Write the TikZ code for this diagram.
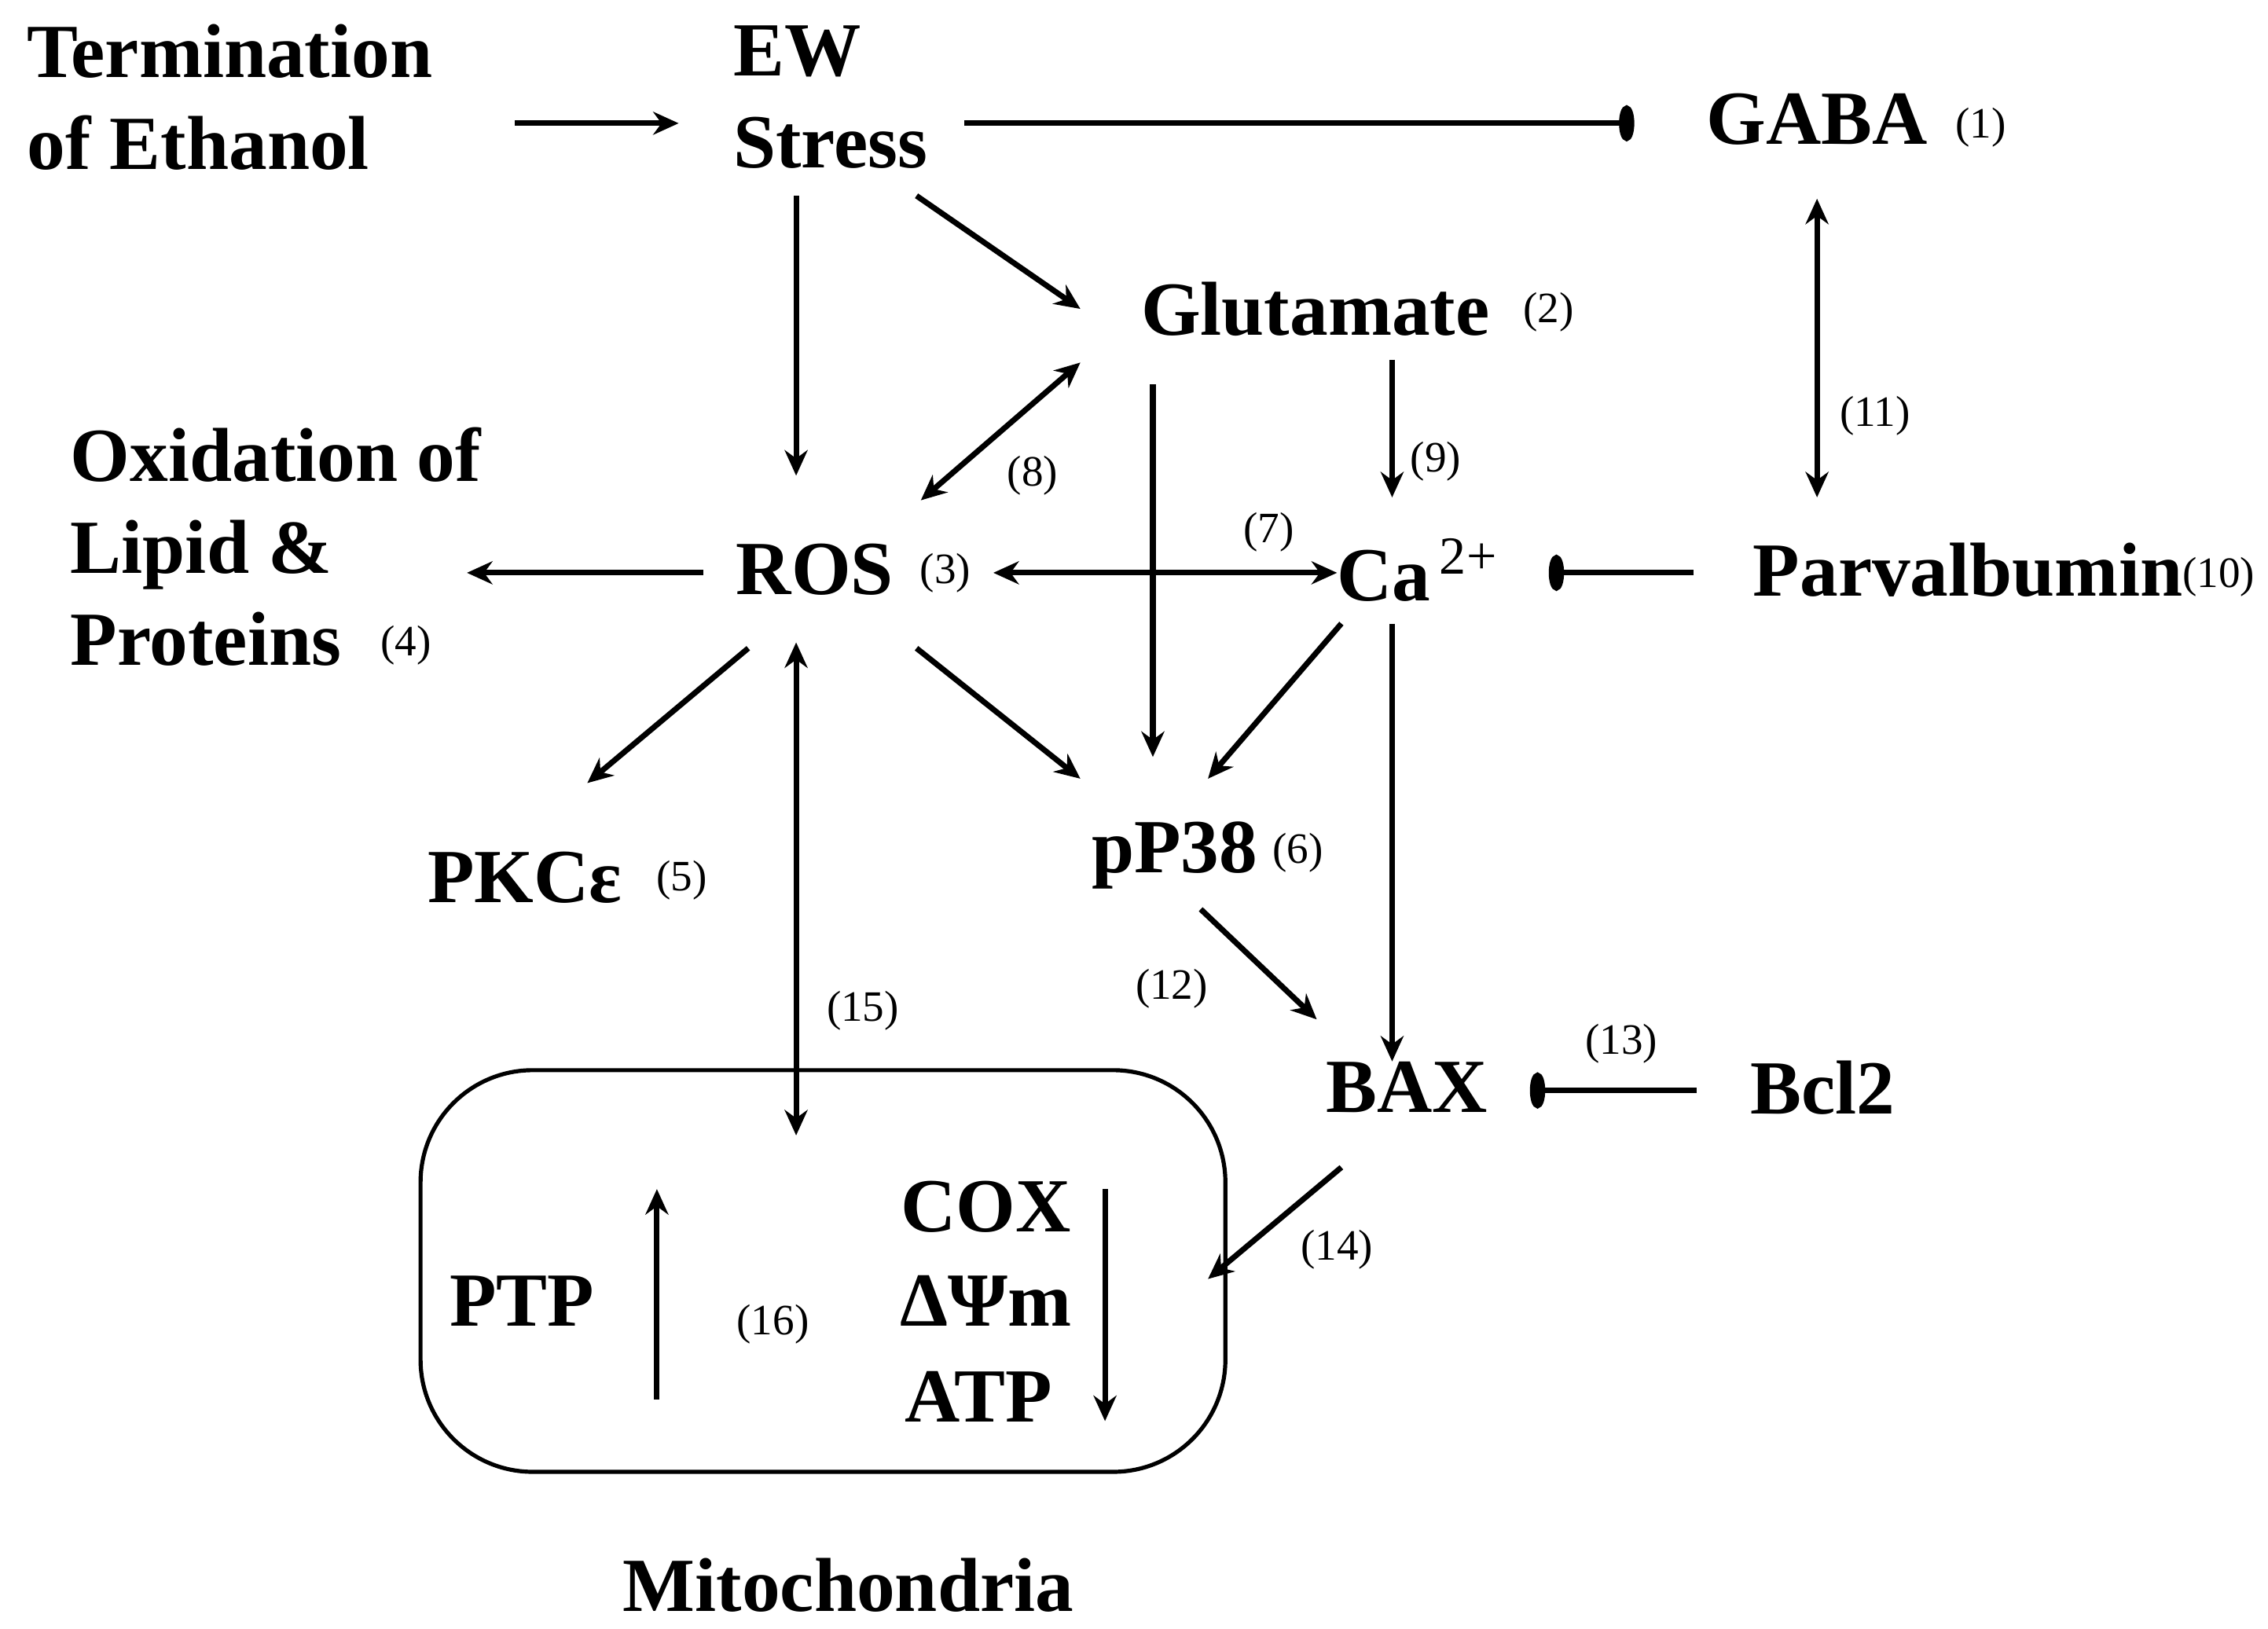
\documentclass[tikz,border=0pt]{standalone}
\usepackage{fontspec}
\setmainfont{Liberation Serif}
\usetikzlibrary{arrows.meta}
\begin{document}
\begin{tikzpicture}[x=0.01cm,y=-0.01cm,
  big/.style={font=\fontsize{15}{18}\selectfont\bfseries,inner sep=0pt},
  sm/.style={font=\fontsize{8.5}{10}\selectfont,inner sep=0pt},
  ar/.style={line width=1.1pt,-{Stealth[length=5pt,width=4.5pt]}},
  dar/.style={line width=1.1pt,{Stealth[length=5pt,width=4.5pt]}-{Stealth[length=5pt,width=4.5pt]}},
  inh/.style={line width=1.1pt,-{Ellipse[length=3pt,width=7pt]}}]
\useasboundingbox (0,0) rectangle (1564,1123);
\node[big,anchor=west,align=left] (term) at (18,67) {Termination\\of Ethanol};
\node[big,anchor=west,align=left] (ews) at (505,67) {EW\\Stress};
\node[big] (gaba) at (1253,82) {GABA};
\node[sm] (l1) at (1366,88) {(1)};
\node[big] (glu) at (907,213) {Glutamate};
\node[sm] (l2) at (1068,215) {(2)};
\node[big,anchor=west,align=left] (ox) at (48,377) {Oxidation of\\Lipid \&\\Proteins};
\node[sm] (l4) at (280,445) {(4)};
\node[big] (ros) at (562,393) {ROS};
\node[sm] (l3) at (652,395) {(3)};
\node[big] (ca) at (978,393) {Ca\textsuperscript{\,\mdseries 2+}};
\node[big] (parv) at (1357,393) {Parvalbumin};
\node[sm] (l10) at (1530,398) {(10)};
\node[big] (pkc) at (362,605) {PKCε};
\node[sm] (l5) at (470,607) {(5)};
\node[big] (pp38) at (810,590) {pP38};
\node[sm] (l6) at (895,588) {(6)};
\node[big] (bax) at (970,750) {BAX};
\node[big] (bcl) at (1257,750) {Bcl2};
\draw[line width=0.8pt,rounded corners=22] (290,738) rectangle (845,1015);
\node[big] (ptp) at (360,897) {PTP};
\node[big] (cox) at (680,832) {COX};
\node[big] (psi) at (680,897) {ΔΨm};
\node[big] (atp) at (675,963) {ATP};
\node[sm] (l16) at (533,913) {(16)};
\node[big] (mito) at (585,1093) {Mitochondria};
\node[sm] at (712,328) {(8)};
\node[sm] at (990,318) {(9)};
\node[sm] at (875,367) {(7)};
\node[sm] at (1293,287) {(11)};
\node[sm] at (808,682) {(12)};
\node[sm] at (1118,720) {(13)};
\node[sm] at (922,862) {(14)};
\node[sm] at (595,697) {(15)};
% endpoints
\coordinate (a1) at (355,85); \coordinate (a2) at (468,85);
\coordinate (b1) at (665,85); \coordinate (b2) at (1127,85);
\coordinate (c1) at (549,135); \coordinate (c2) at (549,328);
\coordinate (d1) at (632,135); \coordinate (d2) at (745,213);
\coordinate (e1) at (745,250); \coordinate (e2) at (635,345);
\coordinate (f1) at (795,265); \coordinate (f2) at (795,522);
\coordinate (g1) at (960,248); \coordinate (g2) at (960,343);
\coordinate (h1) at (685,395); \coordinate (h2) at (922,395);
\coordinate (i1) at (485,395); \coordinate (i2) at (322,395);
\coordinate (j1) at (1168,395); \coordinate (j2) at (1068,395);
\coordinate (k1) at (1253,137); \coordinate (k2) at (1253,343);
\coordinate (m1) at (516,447); \coordinate (m2) at (405,540);
\coordinate (n1) at (632,447); \coordinate (n2) at (745,537);
\coordinate (o1) at (925,430); \coordinate (o2) at (833,537);
\coordinate (p1) at (960,430); \coordinate (p2) at (960,732);
\coordinate (q1) at (549,443); \coordinate (q2) at (549,783);
\coordinate (r1) at (828,627); \coordinate (r2) at (908,703);
\coordinate (s1) at (1170,752); \coordinate (s2) at (1055,752);
\coordinate (t1) at (925,805); \coordinate (t2) at (833,882);
\coordinate (u1) at (453,965); \coordinate (u2) at (453,820);
\coordinate (v1) at (762,820); \coordinate (v2) at (762,980);
\draw[ar] (a1) -- (a2);
\draw[inh] (b1) -- (b2);
\draw[ar] (c1) -- (c2);
\draw[ar] (d1) -- (d2);
\draw[dar] (e1) -- (e2);
\draw[ar] (f1) -- (f2);
\draw[ar] (g1) -- (g2);
\draw[dar] (h1) -- (h2);
\draw[ar] (i1) -- (i2);
\draw[inh] (j1) -- (j2);
\draw[dar] (k1) -- (k2);
\draw[ar] (m1) -- (m2);
\draw[ar] (n1) -- (n2);
\draw[ar] (o1) -- (o2);
\draw[ar] (p1) -- (p2);
\draw[dar] (q1) -- (q2);
\draw[ar] (r1) -- (r2);
\draw[inh] (s1) -- (s2);
\draw[ar] (t1) -- (t2);
\draw[ar] (u1) -- (u2);
\draw[ar] (v1) -- (v2);
\end{tikzpicture}
\end{document}
